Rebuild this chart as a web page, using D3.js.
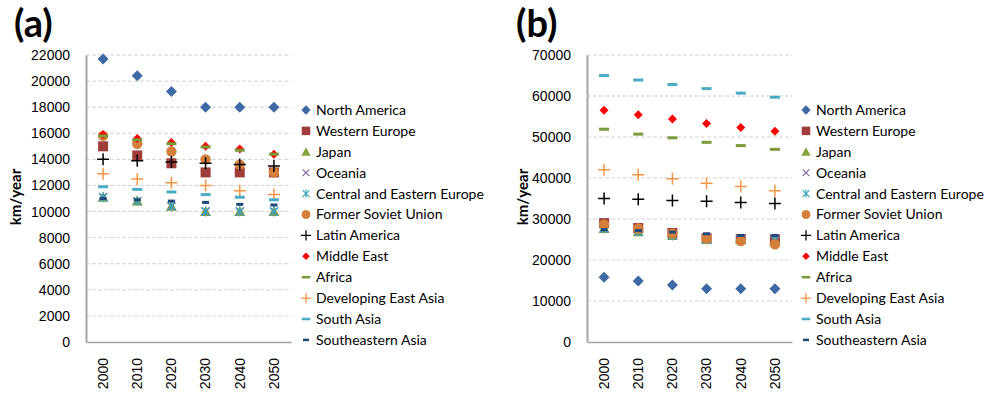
<!DOCTYPE html>
<html>
<head>
<meta charset="utf-8">
<script src="https://cdn.jsdelivr.net/npm/d3@7"></script>
<style>
  body { margin: 0; background: #fff; }
  svg { display: block; }
  .tick text { font-family: "Liberation Sans", Arial, sans-serif; font-size: 14px; fill: #000; }
  .legend text { font-family: Lato, "Open Sans", sans-serif; font-size: 14px; fill: #000; }
</style>
</head>
<body>
<div id="chart"></div>
<script>
// Categories
var years = ["2000", "2010", "2020", "2030", "2040", "2050"];
var regions = ["North America", "Western Europe", "Japan", "Oceania",
  "Central and Eastern Europe", "Former Soviet Union", "Latin America",
  "Middle East", "Africa", "Developing East Asia", "South Asia", "Southeastern Asia"];

// Panel (a) values, one row per region (same order as regions)
var valuesA = [
  [21700, 20400, 19200, 18000, 18000, 18000],
  [15000, 14300, 13700, 13000, 13000, 13000],
  [11100, 10800, 10400, 10000, 10000, 10000],
  [11100, 10800, 10400, 10000, 10000, 10000],
  [11100, 10800, 10400, 10000, 10000, 10000],
  [15800, 15200, 14600, 14000, 13600, 13000],
  [14000, 13900, 13800, 13700, 13600, 13500],
  [15900, 15600, 15300, 15000, 14800, 14400],
  [15800, 15500, 15200, 14950, 14700, 14400],
  [12900, 12500, 12200, 12000, 11600, 11300],
  [11900, 11700, 11500, 11300, 11100, 10900],
  [11000, 10900, 10800, 10700, 10550, 10500]
];

// Panel (b) values
var valuesB = [
  [15800, 14900, 13900, 13000, 13000, 13000],
  [29000, 27800, 26600, 25300, 25100, 25000],
  [27700, 26900, 26000, 25000, 25000, 24800],
  [27700, 26900, 26000, 25000, 25000, 24800],
  [27700, 26900, 26000, 25000, 25000, 24800],
  [28700, 27700, 26500, 25300, 24600, 23800],
  [35000, 34800, 34500, 34300, 34000, 33800],
  [56500, 55400, 54400, 53300, 52300, 51400],
  [51900, 50700, 49800, 48700, 47900, 47000],
  [42000, 40800, 39800, 38700, 37900, 36900],
  [65000, 63900, 62800, 61800, 60700, 59700],
  [27400, 27200, 26800, 26400, 26000, 26000]
];

var ticksA = d3.range(0, 22001, 2000);
var ticksB = d3.range(0, 70001, 10000);

// marker style per region
var markers = [
  {type: "diamond", color: "#3d6aa5"},
  {type: "square", color: "#9e3d3a"},
  {type: "triangle", color: "#86a340"},
  {type: "x", color: "#7a5f9e"},
  {type: "star", color: "#3ba3bd"},
  {type: "circle", color: "#d5803a"},
  {type: "plus", color: "#000000"},
  {type: "smalldiamond", color: "#ff0000"},
  {type: "dash", color: "#7b9a3b"},
  {type: "plus", color: "#f79646"},
  {type: "dash", color: "#4bacc6"},
  {type: "smalldash", color: "#1f497d"}
];

var svg = d3.select("#chart").append("svg")
  .attr("width", 1000).attr("height", 399);

function drawMarker(g, type, color) {
  if (type == "diamond") {
    g.append("path").attr("d", "M0,-5.5L5.5,0L0,5.5L-5.5,0Z").attr("fill", color);
  } else if (type == "smalldiamond") {
    g.append("path").attr("d", "M0,-4.5L4.5,0L0,4.5L-4.5,0Z").attr("fill", color);
  } else if (type == "square") {
    g.append("rect").attr("x", -5).attr("y", -5).attr("width", 10).attr("height", 10).attr("fill", color);
  } else if (type == "triangle") {
    g.append("path").attr("d", "M0,-5.5L5.5,4.5L-5.5,4.5Z").attr("fill", color);
  } else if (type == "circle") {
    g.append("circle").attr("r", 5.2).attr("fill", color);
  } else if (type == "x") {
    g.append("path").attr("d", "M-4,-4L4,4M-4,4L4,-4").attr("stroke", color).attr("stroke-width", 1.3);
  } else if (type == "star") {
    g.append("path").attr("d", "M-4,-4L4,4M-4,4L4,-4M0,-5L0,5").attr("stroke", color).attr("stroke-width", 1.3);
  } else if (type == "plus") {
    g.append("path").attr("d", "M-6,0L6,0M0,-6L0,6").attr("stroke", color).attr("stroke-width", 1.5);
  } else if (type == "dash") {
    g.append("rect").attr("x", -5).attr("y", -1.5).attr("width", 10).attr("height", 3).attr("fill", color);
  } else if (type == "smalldash") {
    g.append("rect").attr("x", -3.5).attr("y", -1.5).attr("width", 7).attr("height", 3).attr("fill", color);
  }
}

function panel(opts) {
  var left = opts.left, top = 55, bottom = 342, right = opts.left + 205;
  var x = d3.scaleBand().domain(years).range([left, right]);
  var y = d3.scaleLinear().domain([0, opts.max]).range([bottom, top]);

  // gridlines
  svg.append("g").selectAll("line")
    .data(opts.ticks.slice(1))
    .enter().append("line")
    .attr("x1", left).attr("x2", right)
    .attr("y1", function(d) { return y(d); })
    .attr("y2", function(d) { return y(d); })
    .attr("stroke", "#d4d4d4").attr("stroke-dasharray", "4,2");

  // y axis
  var ya = svg.append("g").attr("transform", "translate(" + left + ",0)")
    .call(d3.axisLeft(y).tickValues(opts.ticks).tickFormat(d3.format("d")).tickSize(0).tickPadding(16));
  ya.select(".domain").attr("stroke", "#a6a6a6").attr("stroke-width", 2);

  // x axis
  var xa = svg.append("g").attr("transform", "translate(0," + bottom + ")")
    .call(d3.axisBottom(x).tickSize(0));
  xa.select(".domain").attr("stroke", "#a6a6a6").attr("stroke-width", 1.5);
  xa.selectAll("text")
    .style("text-anchor", "end")
    .attr("transform", "rotate(-90)")
    .attr("x", -16).attr("y", 0).attr("dy", "0.35em");

  // title
  svg.append("text").attr("x", opts.titleX).attr("y", 37)
    .style("font-family", "Lato, sans-serif").style("font-weight", "bold")
    .style("font-size", "38px").text(opts.title);

  // y label
  svg.append("text")
    .attr("transform", "translate(" + opts.labelX + ",197) rotate(-90)")
    .attr("text-anchor", "middle")
    .style("font-family", "Lato, sans-serif").style("font-weight", "bold")
    .style("font-size", "15px").text("km/year");

  // points
  opts.values.forEach(function(row, i) {
    row.forEach(function(v, j) {
      var g = svg.append("g")
        .attr("transform", "translate(" + (x(years[j]) + x.bandwidth() / 2) + "," + y(v) + ")");
      drawMarker(g, markers[i].type, markers[i].color);
    });
  });

  // legend
  var lg = svg.append("g").attr("class", "legend");
  regions.forEach(function(name, i) {
    var yy = 110 + i * 20.9;
    var g = lg.append("g").attr("transform", "translate(" + opts.legendX + "," + yy + ")");
    drawMarker(g, markers[i].type, markers[i].color);
    g.select("*").attr("transform", "scale(0.85)");
    g.append("text").attr("x", 10).attr("dy", "0.35em").text(name);
  });
}

panel({left: 86, max: 22000, ticks: ticksA, values: valuesA, title: "(a)", titleX: 14, labelX: 21, legendX: 306});
panel({left: 587, max: 70000, ticks: ticksB, values: valuesB, title: "(b)", titleX: 516, labelX: 528, legendX: 806});
</script>
</body>
</html>
